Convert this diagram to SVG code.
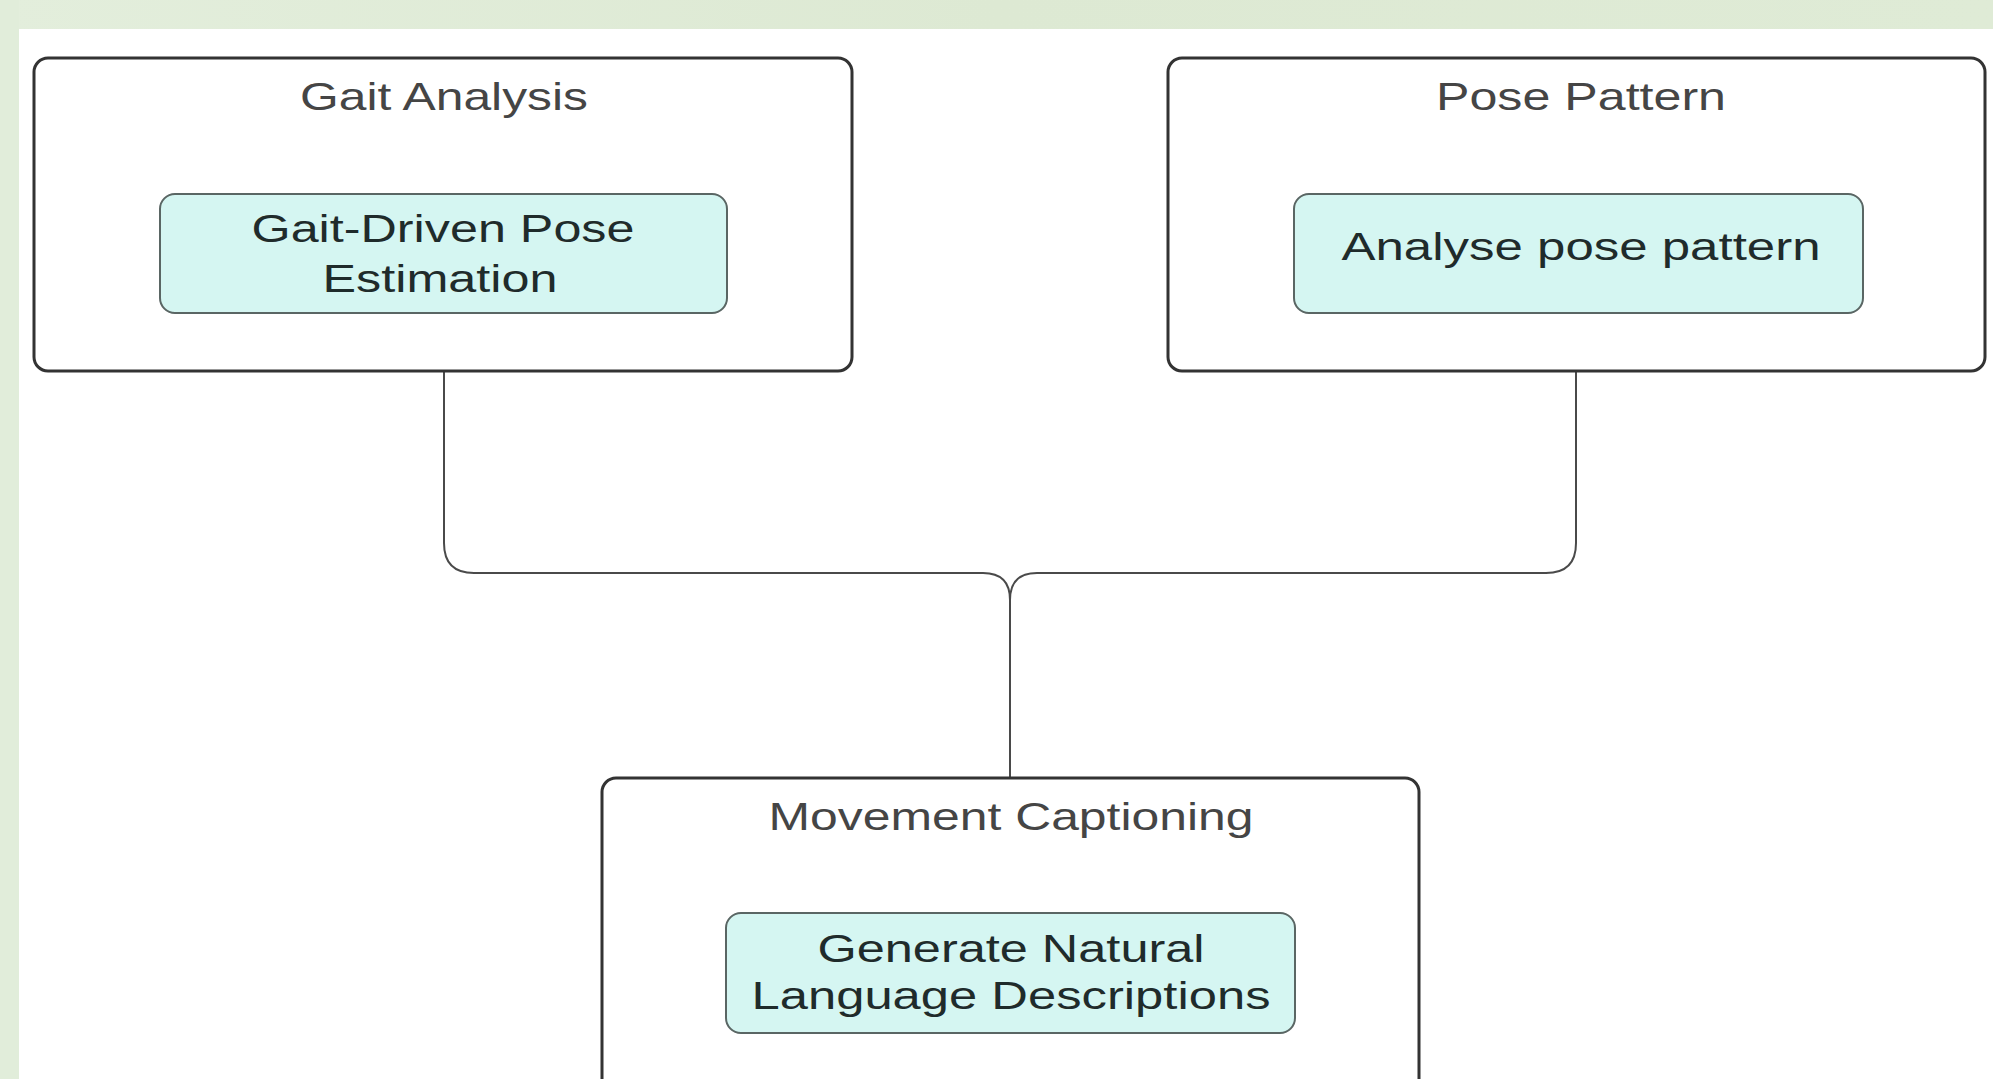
<svg xmlns="http://www.w3.org/2000/svg" width="1993" height="1079" viewBox="0 0 1993 1079">
  <defs>
    <linearGradient id="band" x1="0" y1="0" x2="1" y2="0">
      <stop offset="0" stop-color="#e3eedc"/>
      <stop offset="0.5" stop-color="#dde9d3"/>
      <stop offset="1" stop-color="#dfebd6"/>
    </linearGradient>
    <style>
      .outer { fill: #ffffff; stroke: #333333; stroke-width: 3; }
      .inner { fill: #d5f6f2; stroke: #5a6664; stroke-width: 2; }
      .title { font-family: "Liberation Sans", Arial, sans-serif; font-size: 49px; fill: #454545; text-anchor: middle; }
      .label { font-family: "Liberation Sans", Arial, sans-serif; font-size: 50px; fill: #1f2b2b; text-anchor: middle; }
      .conn { fill: none; stroke: #4a4a4a; stroke-width: 2; }
    </style>
  </defs>
  <rect x="0" y="0" width="1993" height="1079" fill="#ffffff"/>
  <rect x="0" y="0" width="1993" height="29" fill="url(#band)"/>
  <rect x="0" y="0" width="19" height="1079" fill="#e1edda"/>

  <g id="connectors">
    <path class="conn" d="M444 372 V543 Q444 573 474 573 H983 Q1010 573 1010 600"/>
    <path class="conn" d="M1576 372 V543 Q1576 573 1546 573 H1037 Q1010 573 1010 600"/>
    <path class="conn" d="M1010 600 V778"/>
  </g>

  <g id="gait-analysis">
    <rect class="outer" x="34" y="58" width="818" height="313" rx="14"/>
    <text class="title" transform="translate(444 110) scale(1 0.8)" textLength="288" lengthAdjust="spacingAndGlyphs">Gait Analysis</text>
  </g>
  <g id="gait-driven-pose">
    <rect class="inner" x="160" y="194" width="567" height="119" rx="15"/>
    <text class="label" transform="translate(443 242) scale(1 0.76)" textLength="383" lengthAdjust="spacingAndGlyphs">Gait-Driven Pose</text>
    <text class="label" transform="translate(440 292) scale(1 0.76)" textLength="235" lengthAdjust="spacingAndGlyphs">Estimation</text>
  </g>

  <g id="pose-pattern">
    <rect class="outer" x="1168" y="58" width="817" height="313" rx="14"/>
    <text class="title" transform="translate(1581 110) scale(1 0.8)" textLength="290" lengthAdjust="spacingAndGlyphs">Pose Pattern</text>
  </g>
  <g id="analyse-pose-pattern">
    <rect class="inner" x="1294" y="194" width="569" height="119" rx="15"/>
    <text class="label" transform="translate(1581 260) scale(1 0.76)" textLength="479" lengthAdjust="spacingAndGlyphs">Analyse pose pattern</text>
  </g>

  <g id="movement-captioning">
    <rect class="outer" x="602" y="778" width="817" height="330" rx="14"/>
    <text class="title" transform="translate(1011 830) scale(1 0.8)" textLength="485" lengthAdjust="spacingAndGlyphs">Movement Captioning</text>
  </g>
  <g id="generate-descriptions">
    <rect class="inner" x="726" y="913" width="569" height="120" rx="15"/>
    <text class="label" transform="translate(1011 962) scale(1 0.76)" textLength="387" lengthAdjust="spacingAndGlyphs">Generate Natural</text>
    <text class="label" transform="translate(1011 1009) scale(1 0.76)" textLength="519" lengthAdjust="spacingAndGlyphs">Language Descriptions</text>
  </g>
</svg>
